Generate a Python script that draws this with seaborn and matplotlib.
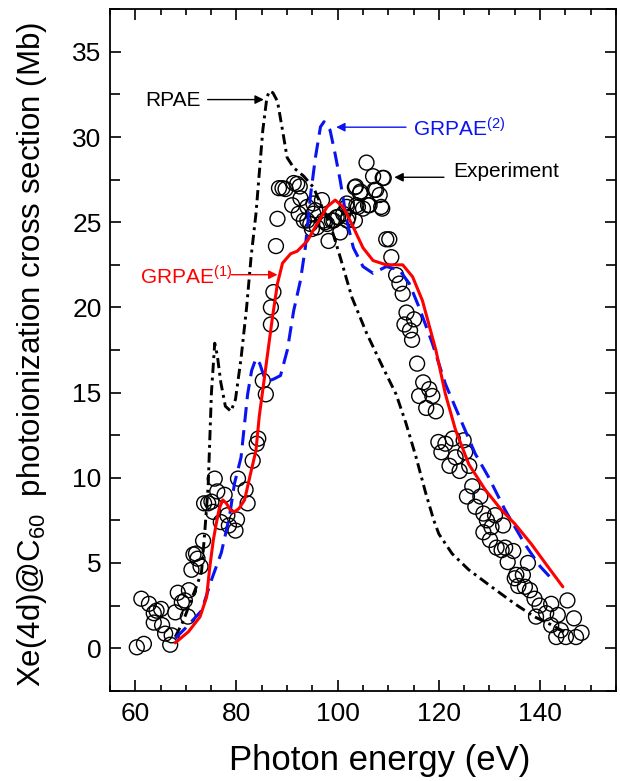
import matplotlib
matplotlib.use("Agg")
import matplotlib.pyplot as plt
import seaborn as sns
import pandas as pd
import numpy as np
from matplotlib.ticker import MultipleLocator

# ---------------- data ----------------
rpae_x = [67.9, 69.5, 71.0, 72.2, 73.1, 73.7, 74.4, 75.05, 75.7, 76.2, 76.9, 77.8, 78.9, 79.8,
          80.9, 82.0, 82.9, 83.85, 85.2, 86.0, 86.5, 87.2, 88.1, 89.1, 90.0, 91.3, 93.3, 95.2,
          96.6, 98.5, 100.5, 102.8, 105.7, 108.9, 111.55, 113.5, 115.5, 117.4, 119.0, 120.0,
          122.6, 125.9, 130.4, 135.0, 138.9, 142.0, 144.8]
rpae_y = [0.66, 1.6, 2.8, 3.7, 4.5, 6.7, 9.5, 15.0, 17.9, 17.2, 15.6, 14.2, 13.9, 14.6,
          17.0, 20.0, 23.0, 25.5, 30.4, 32.3, 32.7, 32.6, 32.1, 30.4, 28.8, 28.2, 27.7, 27.05,
          26.1, 24.9, 22.95, 20.6, 18.5, 16.5, 14.9, 13.2, 11.2, 9.1, 7.5, 6.7,
          5.55, 4.6, 3.6, 2.6, 1.84, 1.4, 0.96]

grpae2_x = [67.9, 70.0, 73.1, 75.05, 77.0, 78.6, 79.6, 80.9, 82.2, 83.0, 83.85, 84.6, 85.5,
            86.5, 87.4, 88.7, 90.05, 91.3, 92.65, 93.6, 94.6, 95.6, 96.6, 97.3, 98.5, 99.5,
            100.5, 101.8, 103.1, 105.0, 107.0, 109.6, 112.2, 114.15, 116.1, 118.7, 121.3,
            124.6, 127.2, 129.8, 133.1, 137.0, 140.0, 142.5]
grpae2_y = [0.57, 1.2, 2.2, 4.0, 5.6, 7.7, 9.66, 11.2, 14.9, 16.3, 17.0, 16.7, 15.9,
            15.7, 15.8, 16.0, 17.5, 19.8, 21.6, 23.5, 26.5, 28.8, 30.6, 30.9, 30.4, 29.0,
            27.45, 25.1, 23.5, 22.4, 22.0, 22.4, 22.2, 21.4, 20.0, 17.9, 15.5,
            13.2, 11.4, 10.05, 8.1, 6.1, 4.8, 4.0]

grpae1_x = [67.9, 70.5, 72.8, 74.1, 74.7, 75.4, 76.0, 76.6, 77.3, 78.0, 78.8, 79.6, 80.5,
            81.6, 82.9, 83.85, 84.5, 85.8, 87.1, 88.1, 89.1, 90.7, 92.0, 94.0, 95.9, 97.9,
            99.5, 101.1, 103.1, 105.0, 107.0, 109.6, 112.2, 112.85, 114.8, 116.75, 119.4,
            121.3, 123.3, 125.9, 129.15, 132.4, 135.0, 138.3, 141.5, 144.5]
grpae1_y = [0.31, 0.96, 1.84, 3.0, 4.7, 6.3, 7.3, 8.2, 8.7, 8.5, 8.1, 8.0, 8.2,
            8.7, 10.4, 11.6, 13.6, 16.5, 19.4, 21.4, 22.6, 23.15, 23.3, 23.9, 24.9, 25.9,
            26.3, 25.9, 24.7, 23.5, 22.75, 22.5, 22.5, 22.5, 21.8, 20.4, 17.5,
            14.9, 12.8, 10.8, 9.3, 8.1, 7.3, 6.1, 4.8, 3.6]

exp_x = [60.3, 61.7, 61.2, 62.7, 63.65, 64.2, 65.1, 63.65, 65.3, 65.9, 66.9, 67.2, 67.9, 68.4,
         69.2, 69.8, 70.6, 70.4, 71.1, 71.5, 72.0, 72.3, 72.9, 73.4, 73.6, 74.4, 75.05, 75.4,
         75.7, 76.2, 76.9, 77.65, 78.2, 78.5, 79.8, 80.1, 80.3, 81.8, 82.2, 83.2, 84.0, 84.3,
         85.2, 85.8, 86.8, 86.8, 87.3, 87.8, 88.1, 88.4, 89.1, 89.7, 91.3, 92.0, 92.5, 91.0,
         92.65, 92.3, 94.0, 93.3, 94.0, 94.9, 95.2, 95.2, 95.6, 94.6, 95.9, 96.9, 97.2, 97.5,
         98.2, 97.9, 98.85, 99.2, 99.8, 100.1, 100.5, 101.1, 101.8, 101.8, 102.1, 101.9, 103.4,
         103.6, 103.7, 104.4, 104.5, 104.0, 103.4, 105.0, 105.7, 106.0, 106.3, 107.0, 107.3,
         107.6, 108.3, 108.6, 108.8, 108.9, 109.1, 109.6, 110.2, 110.6, 111.55, 112.2, 112.85,
         113.6, 115.1, 113.2, 114.3, 114.7, 115.7, 116.9, 118.1, 116.1, 118.7, 117.5, 119.4,
         119.9, 121.3, 122.75, 124.9, 120.5, 123.3, 125.2, 122.1, 124.1, 126.0, 126.6, 125.55,
         128.2, 127.2, 128.8, 131.1, 129.5, 130.4, 132.7, 128.8, 130.1, 131.4, 132.4, 133.1,
         134.7, 133.6, 137.6, 135.3, 136.6, 135.0, 135.7, 137.0, 138.0, 138.9, 139.9, 142.2,
         141.2, 139.2, 143.5, 145.4, 146.7, 142.2, 144.1, 143.2, 145.1, 147.1, 148.2]
exp_y = [0.05, 0.25, 2.9, 2.6, 2.05, 2.2, 2.3, 1.5, 1.35, 0.85, 0.2, 0.75, 2.1, 3.25,
         2.7, 2.8, 3.4, 1.85, 4.6, 5.5, 5.55, 5.25, 4.8, 6.3, 8.5, 8.5, 8.6, 8.0,
         9.95, 9.2, 7.4, 9.0, 7.8, 7.2, 6.9, 7.55, 9.95, 9.3, 8.5, 11.0, 12.0, 12.3,
         15.7, 14.9, 19.0, 20.0, 20.9, 23.6, 25.2, 27.0, 27.0, 26.95, 27.3, 27.25, 27.1, 26.0,
         26.4, 25.5, 25.9, 25.1, 25.1, 24.6, 26.1, 25.5, 25.7, 24.9, 24.7, 26.3, 25.1, 25.0,
         23.9, 24.9, 25.1, 25.1, 25.3, 25.3, 24.4, 25.5, 25.9, 26.1, 25.3, 25.1, 27.05,
         27.1, 26.0, 26.7, 26.8, 25.9, 25.1, 25.8, 28.5, 26.0, 26.0, 27.7, 26.9,
         26.9, 26.6, 25.9, 25.8, 27.6, 27.6, 24.0, 24.0, 22.95, 21.9, 21.4, 20.8,
         19.7, 19.3, 19.0, 18.65, 18.1, 16.7, 15.6, 15.2, 14.8, 14.8, 14.1, 13.9,
         12.1, 12.0, 12.3, 12.2, 11.5, 11.2, 11.5, 10.7, 10.4, 10.7, 9.5, 8.9,
         8.9, 8.3, 7.9, 7.8, 7.5, 7.1, 7.2, 6.8, 6.35, 5.9, 5.75, 5.9,
         5.7, 5.05, 5.0, 4.3, 4.3, 4.1, 3.65, 3.6, 3.4, 2.9, 2.5, 2.6,
         2.05, 1.85, 1.95, 2.8, 1.75, 1.35, 1.05, 0.65, 0.65, 0.65, 0.9]

x_ticks = [60, 80, 100, 120, 140]
y_ticks = [0, 5, 10, 15, 20, 25, 30, 35]

# ---------------- style ----------------
sns.set_theme(style="ticks")
plt.rcParams['font.family'] = ['Liberation Sans', 'DejaVu Sans']
plt.rcParams['mathtext.fontset'] = 'custom'
plt.rcParams['mathtext.rm'] = 'Liberation Sans'
plt.rcParams['mathtext.it'] = 'Liberation Sans'
plt.rcParams['mathtext.bf'] = 'Liberation Sans'
plt.rcParams['mathtext.default'] = 'regular'

fig = plt.figure(figsize=(6.2, 7.81), dpi=100)
ax = fig.add_axes([0.1774, 0.1156, 0.8161, 0.8725])

df_exp = pd.DataFrame({"E": exp_x, "sigma": exp_y})
sns.scatterplot(data=df_exp, x="E", y="sigma", ax=ax, marker="o", s=115,
                facecolor="none", edgecolor="black", linewidth=1.0, zorder=2)

df_rpae = pd.DataFrame({"E": rpae_x, "sigma": rpae_y})
df_g2 = pd.DataFrame({"E": grpae2_x, "sigma": grpae2_y})
df_g1 = pd.DataFrame({"E": grpae1_x, "sigma": grpae1_y})

sns.lineplot(data=df_rpae, x="E", y="sigma", ax=ax, sort=False, color="black",
             lw=2.1, zorder=3).lines[-1].set_dashes([3.5, 1.6, 1.0, 1.6])
sns.lineplot(data=df_g2, x="E", y="sigma", ax=ax, sort=False, color="#0a14f0",
             lw=2.2, zorder=4).lines[-1].set_dashes([5.0, 2.6])
sns.lineplot(data=df_g1, x="E", y="sigma", ax=ax, sort=False, color="#ff0000",
             lw=2.2, zorder=5)

ax.set_xlim(55, 155)
ax.set_ylim(-2.5, 37.5)
ax.set_xticks(x_ticks)
ax.set_yticks(y_ticks)
ax.xaxis.set_minor_locator(MultipleLocator(5))
ax.yaxis.set_minor_locator(MultipleLocator(2.5))
ax.tick_params(axis='both', which='both', direction='in', top=True, right=True,
               width=1.2, labelsize=19, color='black', labelcolor='black')
ax.tick_params(axis='x', which='major', length=8, pad=8)
ax.tick_params(axis='x', which='minor', length=4.5)
ax.tick_params(axis='y', which='major', length=8, pad=6)
ax.tick_params(axis='y', which='minor', length=7)
for sp in ax.spines.values():
    sp.set_linewidth(1.3)
    sp.set_color('black')

ax.set_xlabel("Photon energy (eV)", fontsize=25, color='black')
ax.set_ylabel("Xe(4d)@C$_{60}$  photoionization cross section (Mb)", fontsize=22.5, color='black')
ax.xaxis.label.set_va('center')
ax.yaxis.label.set_va('center')
ax.xaxis.set_label_coords(0.533, -0.103)
ax.yaxis.set_label_coords(-0.154, 0.493)

# annotations
arr = dict(arrowstyle='-|>', lw=1.0, mutation_scale=13, shrinkA=0, shrinkB=0)
ax.annotate("", xy=(85.4, 32.2), xytext=(74.3, 32.2), arrowprops=dict(arr, color='black'))
ax.text(73.0, 32.15, "RPAE", ha='right', va='center', fontsize=15, color='black')

ax.annotate("", xy=(99.7, 30.58), xytext=(113.5, 30.58), arrowprops=dict(arr, color='#0a14f0'))
ax.text(114.9, 30.5, "GRPAE$^{(2)}$", ha='left', va='center', fontsize=15, color='#0a14f0')

ax.annotate("", xy=(111.2, 27.64), xytext=(121.0, 27.64), arrowprops=dict(arr, color='black'))
ax.text(122.8, 28.0, "Experiment", ha='left', va='center', fontsize=15, color='black')

ax.annotate("", xy=(88.1, 21.92), xytext=(79.0, 21.92), arrowprops=dict(arr, color='#ff0000'))
ax.text(61.0, 21.8, "GRPAE$^{(1)}$", ha='left', va='center', fontsize=15, color='#ff0000')

fig.savefig("out.png", dpi=100)
